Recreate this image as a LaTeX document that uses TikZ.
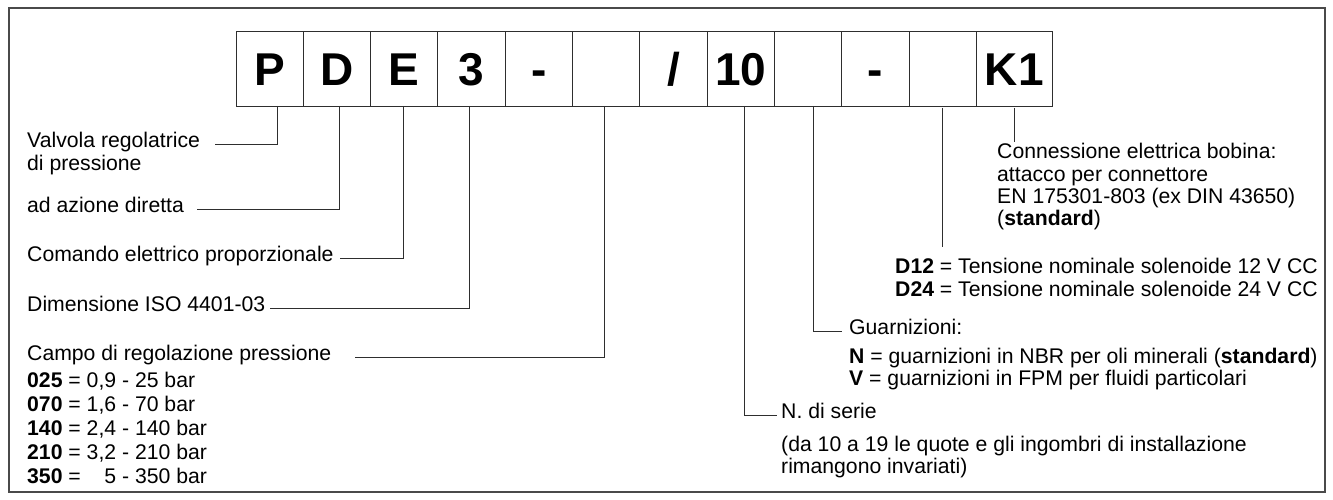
\documentclass[tikz,border=0pt]{standalone}
\usepackage{fontspec}
\setmainfont{Liberation Sans}
\usepackage{xcolor}
\usepackage{tikz}
\usetikzlibrary{
  positioning,
  calc
}
\definecolor{lineGray}{HTML}{2E2E2E}
\definecolor{frameGray}{HTML}{4A4A4A}
\tikzset{
  cell/.style={
    rectangle, draw=lineGray, line width=0.9pt,
    minimum width=67.3pt, minimum height=75pt,
    inner sep=0pt, outer sep=0pt,
    font=\fontsize{46}{46}\selectfont\bfseries,
    text height=34pt, text depth=0pt
  },
  lbl/.style={
    anchor=base west, inner sep=0pt,
    font=\fontsize{21.2}{24}\selectfont
  },
  lead/.style={draw=lineGray, line width=0.9pt},
  frame/.style={draw=frameGray, line width=1.4pt}
}

\begin{document}
\begin{tikzpicture}[x=1pt, y=-1pt]

    \useasboundingbox (0,0) rectangle (1333,500);
    \draw[frame] (9,8) rectangle (1325,492);

    % code boxes
    \node[cell, anchor=north west] (c1) at (236,31) {P};
    \node[cell, right=0pt of c1] (c2) {D};
    \node[cell, right=0pt of c2] (c3) {E};
    \node[cell, right=0pt of c3] (c4) {3};
    \node[cell, right=0pt of c4] (c5) {-};
    \node[cell, right=0pt of c5] (c6) {};
    \node[cell, right=0pt of c6] (c7) {/};
    \node[cell, right=0pt of c7] (c8) {10};
    \node[cell, right=0pt of c8] (c9) {};
    \node[cell, right=0pt of c9] (c10) {-};
    \node[cell, right=0pt of c10] (c11) {};
    \node[cell, right=0pt of c11, minimum width=76pt] (c12) {K1};

    % left column
    \node[lbl] (lvalv) at (27,147) {Valvola regolatrice};
    \node[lbl] (ldip) at ([yshift=-23pt]lvalv.base west) {di pressione};
    \node[lbl] (lazione) at (27,212) {ad azione diretta};
    \node[lbl] (lcom) at (27,261) {Comando elettrico proporzionale};
    \node[lbl] (ldim) at (27,311) {Dimensione ISO 4401-03};
    \node[lbl] (lcampo) at (27,360) {Campo di regolazione pressione};
    \node[lbl] (l025) at ([yshift=-27pt]lcampo.base west)
      {\textbf{025} = 0,9 - 25 bar};
    \node[lbl] (l070) at ([yshift=-24pt]l025.base west)
      {\textbf{070} = 1,6 - 70 bar};
    \node[lbl] (l140) at ([yshift=-24pt]l070.base west)
      {\textbf{140} = 2,4 - 140 bar};
    \node[lbl] (l210) at ([yshift=-24pt]l140.base west)
      {\textbf{210} = 3,2 - 210 bar};
    \node[lbl] (l350) at ([yshift=-24pt]l210.base west)
      {\textbf{350} = \phantom{0,}5 - 350 bar};

    % right column
    \node[lbl] (lconn) at (997,158) {Connessione elettrica bobina:};
    \node[lbl] (latt) at ([yshift=-24pt]lconn.base west)
      {attacco per connettore};
    \node[lbl] (len) at ([yshift=-21pt]latt.base west)
      {EN 175301-803 (ex DIN 43650)};
    \node[lbl] (lstd) at ([yshift=-22pt]len.base west)
      {(\textbf{standard})};
    \node[lbl] (ld12) at (895,273)
      {\textbf{D12} = Tensione nominale solenoide 12 V CC};
    \node[lbl] (ld24) at ([yshift=-23pt]ld12.base west)
      {\textbf{D24} = Tensione nominale solenoide 24 V CC};
    \node[lbl] (lguar) at (849,334) {Guarnizioni:};
    \node[lbl] (lnbr) at ([yshift=-29pt]lguar.base west)
      {\textbf{N} = guarnizioni in NBR per oli minerali (\textbf{standard})};
    \node[lbl] (lfpm) at ([yshift=-22pt]lnbr.base west)
      {\textbf{V} = guarnizioni in FPM per fluidi particolari};
    \node[lbl] (lser) at (781,418) {N. di serie};
    \node[lbl] (lda) at ([yshift=-33pt]lser.base west)
      {(da 10 a 19 le quote e gli ingombri di installazione};
    \node[lbl] (lrim) at ([yshift=-22pt]lda.base west)
      {rimangono invariati)};

    % leaders
    \draw[lead] ([xshift=8pt]c1.south) |- ([xshift=15pt]lvalv.mid east);
    \draw[lead] ([xshift=2pt]c2.south) |- ([xshift=13pt]lazione.mid east);
    \draw[lead] ([xshift=-1pt]c3.south) |- ([xshift=6pt]lcom.mid east);
    \draw[lead] ([xshift=-2.5pt]c4.south) |- ([xshift=5pt]ldim.mid east);
    \draw[lead] ([xshift=-2pt]c6.south) |- ([xshift=24pt]lcampo.mid east);
    \draw[lead] ([xshift=4pt]c8.south) |- ([xshift=-4pt]lser.mid west);
    \draw[lead] ([xshift=5pt]c9.south) |- ([xshift=-7pt]lguar.mid west);
    \draw[lead] ([yshift=-2pt]c11.south)
      -- ([yshift=10pt]c11.south |- ld12.north);
    \draw[lead] ([yshift=-2pt]c12.south) -- (c12.south |- lconn.north);

  \end{tikzpicture}
\end{document}
